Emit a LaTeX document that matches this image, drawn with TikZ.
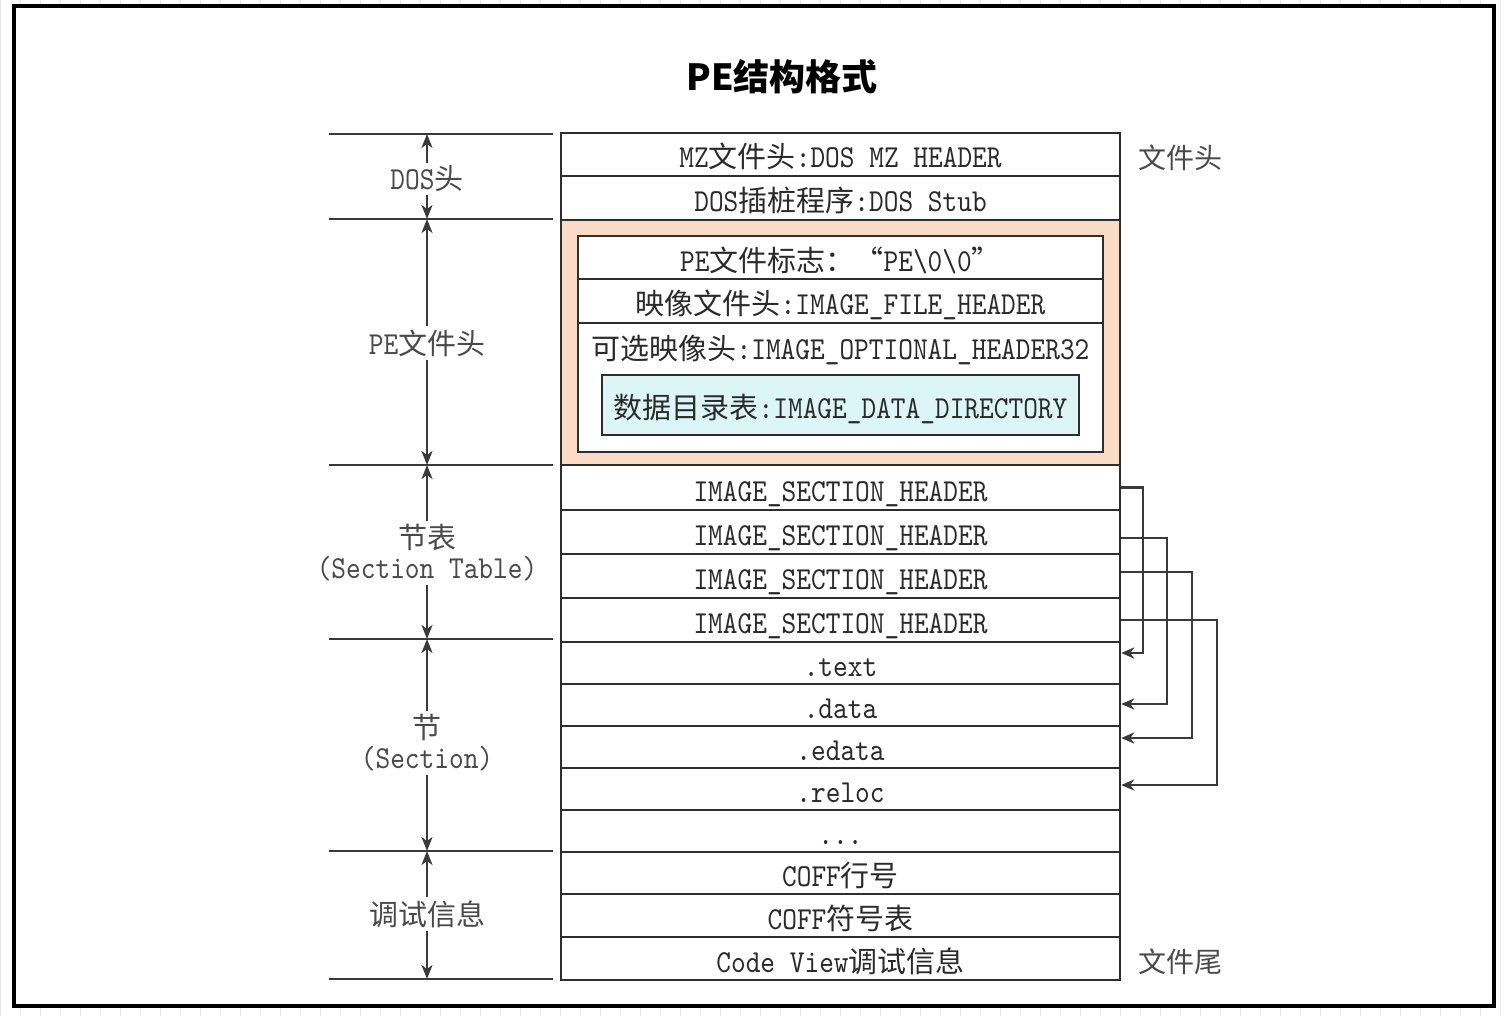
\documentclass[tikz,border=0pt]{standalone}
\usepackage{fontspec}
\usetikzlibrary{arrows.meta,calc}
\newfontfamily\cjkfont{Noto Sans CJK SC}
\newfontfamily\tmono{lmmono10-regular.otf}[FakeStretch=0.875]
\newcommand{\zhtxt}[1]{{\cjkfont\fontsize{29}{30}\selectfont #1}}
\definecolor{linecol}{HTML}{2E2E2E}
\definecolor{sepcol}{HTML}{3A3A3A}
\definecolor{txtcol}{HTML}{2A2A2A}
\definecolor{lblcol}{HTML}{4A4A4A}
\definecolor{peach}{HTML}{FADCC6}
\definecolor{lcyan}{HTML}{DCF6F8}
\definecolor{gridcol}{HTML}{E6E6E6}
\begin{document}
\begin{tikzpicture}[x=1pt,y=-1pt,
  row/.style={draw=linecol, line width=2.4pt, minimum width=559pt, inner sep=0pt,
    text=txtcol, text height=27pt, text depth=0pt, font=\tmono\fontsize{32}{36}\selectfont},
  inrow/.style={row, minimum width=525pt, line width=2.8pt},
  lbl/.style={text=lblcol, inner sep=3pt, align=center,
    font=\tmono\fontsize{32}{30}\selectfont},
  rlbl/.style={text=lblcol, inner sep=0pt, font=\cjkfont\fontsize{28}{30}\selectfont},
  tick/.style={draw=sepcol, line width=2.6pt},
  dimarr/.style={draw=sepcol, line width=2.2pt, -{Stealth[length=14pt,width=11pt,inset=4pt]}},
  conn/.style={draw=sepcol, line width=2.4pt, -{Stealth[length=13pt,width=11pt,inset=4pt]}}]
\useasboundingbox (0,0) rectangle (1506,1016);
% background and frame
\draw[gridcol, line width=0.8pt, step=20] (0,0) grid (1506,1016);
\fill[white] (14,6) rectangle (1494,1006);
\draw[black, line width=4.5pt] (14,6) rectangle (1494,1006);
% title
\node[font=\cjkfont\bfseries\fontsize{36}{40}\selectfont, text=black] (title) at (782,77) {PE结构格式};
% main column
\node[row, minimum height=43pt] (mz) at (840.5,154.5) {MZ\zhtxt{文件头}:DOS MZ HEADER};
\node[row, minimum height=44pt] (stub) at (840.5,198) {DOS\zhtxt{插桩程序}:DOS Stub};
\node[row, fill=peach, minimum height=245pt] (pehdr) at (840.5,342.5) {};
\node[inrow, fill=white, minimum height=43pt] (sig) at (840.5,257.5) {PE\zhtxt{文件标志：“}PE\textbackslash 0\textbackslash 0\zhtxt{”}};
\node[inrow, fill=white, minimum height=44pt] (fhdr) at (840.5,301) {\zhtxt{映像文件头}:IMAGE\_FILE\_HEADER};
\node[inrow, fill=white, minimum height=129pt] (opt) at (840.5,387.5) {};
\node[text=txtcol, inner sep=0pt, text height=27pt, text depth=0pt, font=\tmono\fontsize{32}{36}\selectfont] (opttxt) at (840.5,346) {\zhtxt{可选映像头}:IMAGE\_OPTIONAL\_HEADER32};
\node[row, fill=lcyan, minimum width=477pt, minimum height=60pt, line width=2.6pt] (ddir) at (840.5,405) {\zhtxt{数据目录表}:IMAGE\_DATA\_DIRECTORY};
\node[row, minimum height=45pt] (sh1) at (840.5,487.5) {IMAGE\_SECTION\_HEADER};
\node[row, minimum height=44pt] (sh2) at (840.5,532) {IMAGE\_SECTION\_HEADER};
\node[row, minimum height=44pt] (sh3) at (840.5,576) {IMAGE\_SECTION\_HEADER};
\node[row, minimum height=44pt] (sh4) at (840.5,620) {IMAGE\_SECTION\_HEADER};
\node[row, minimum height=42pt] (stext) at (840.5,663) {.text};
\node[row, minimum height=42pt] (sdata) at (840.5,705) {.data};
\node[row, minimum height=42pt] (sedata) at (840.5,747) {.edata};
\node[row, minimum height=42pt] (sreloc) at (840.5,789) {.reloc};
\node[row, minimum height=42pt] (sdots) at (840.5,831) {...};
\node[row, minimum height=42pt] (coffl) at (840.5,873) {COFF\zhtxt{行号}};
\node[row, minimum height=43pt] (coffs) at (840.5,915.5) {COFF\zhtxt{符号表}};
\node[row, minimum height=43pt] (cview) at (840.5,958.5) {Code View\zhtxt{调试信息}};
% right labels
\node[rlbl] (filehead) at (1180,158) {文件头};
\node[rlbl] (filetail) at (1180,962) {文件尾};
% right connectors
\draw[conn] (sh1.east) -- ++(22,0) |- ([yshift=10pt]stext.east);
\draw[conn] ([yshift=-6pt]sh2.east) -- ++(46,0) |- ([yshift=1pt]sdata.east);
\draw[conn] ([yshift=4pt]sh3.east) -- ++(71,0) |- ([yshift=9pt]sedata.east);
\draw[conn] (sh4.east) -- ++(96,0) |- ([yshift=4pt]sreloc.east);
% left ticks
\foreach \n/\yy in {0/134,1/219,2/465,3/639,4/851,5/979}{
  \coordinate (la\n) at (329,\yy);
  \coordinate (lb\n) at (553,\yy);
  \coordinate (d\n) at (427,\yy);
  \draw[tick] (la\n) -- (lb\n);
}
% left labels
\node[lbl] (dosl) at (427,179) {DOS\zhtxt{头}};
\node[lbl] (pel) at (427,343) {PE\zhtxt{文件头}};
\node[lbl] (stl) at (427,553) {\zhtxt{节表}\\(Section Table)};
\node[lbl] (secl) at (427,743) {\zhtxt{节}\\(Section)};
\node[lbl] (dbgl) at (427,914) {\zhtxt{调试信息}};
\draw[dimarr] (dosl.north) -- (d0);
\draw[dimarr] (dosl.south) -- (d1);
\draw[dimarr] (pel.north) -- (d1);
\draw[dimarr] (pel.south) -- (d2);
\draw[dimarr] (stl.north) -- (d2);
\draw[dimarr] (stl.south) -- (d3);
\draw[dimarr] (secl.north) -- (d3);
\draw[dimarr] (secl.south) -- (d4);
\draw[dimarr] (dbgl.north) -- (d4);
\draw[dimarr] (dbgl.south) -- (d5);
\end{tikzpicture}
\end{document}
